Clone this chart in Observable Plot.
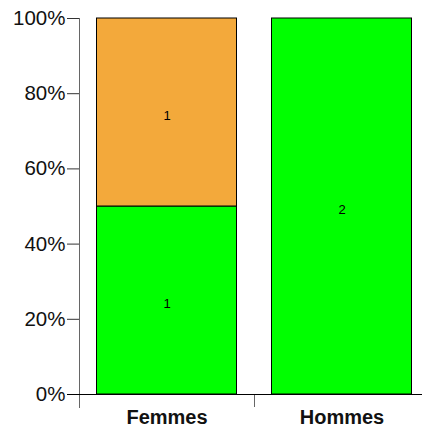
<!DOCTYPE html>
<html>
<head>
<meta charset="utf-8">
<script src="https://cdn.jsdelivr.net/npm/d3@7"></script>
<script src="https://cdn.jsdelivr.net/npm/@observablehq/plot@0.6"></script>
<style>
  html, body { margin: 0; padding: 0; background: #fff; }
  svg { display: block; overflow: visible; }
</style>
</head>
<body>
<div id="chart"></div>
<script>
const categories = ["Femmes", "Hommes"];
const seriesNames = ["vert", "orange"];
const seriesColors = ["#00ff00", "#f3a93b"];
const countsVert = [1, 2];
const countsOrange = [1, 0];
const yTicks = [0, 0.2, 0.4, 0.6, 0.8, 1];

const rows = [];
categories.forEach((c, i) => {
  const vals = [countsVert[i], countsOrange[i]];
  const total = d3.sum(vals);
  let acc = 0;
  vals.forEach((v, s) => {
    rows.push({cat: c, i, series: seriesNames[s], color: seriesColors[s], count: v,
               y1: acc / total, y2: (acc + v) / total});
    acc += v;
  });
});
const shown = rows.filter(d => d.count > 0);

const chart = Plot.plot({
  width: 422,
  height: 428,
  marginLeft: 79,
  marginRight: -7,
  marginTop: 18,
  marginBottom: 34,
  style: {fontFamily: "'Liberation Sans', Arial, sans-serif", background: "#fff"},
  x: {domain: [0, categories.length], axis: null},
  y: {domain: [0, 1], axis: null},
  marks: [
    Plot.rect(shown, {x1: d => d.i + 0.1, x2: d => d.i + 0.9, y1: "y1", y2: "y2",
      fill: "color", stroke: "black", strokeWidth: 1}),
    Plot.text(shown, {x: d => d.i + 0.5, y: d => (d.y1 + d.y2) / 2, text: d => String(d.count),
      fontSize: 13, fill: "black", dy: 3}),
    Plot.ruleX([0], {stroke: "#666", insetBottom: -14}),
    Plot.axisY({ticks: yTicks, tickFormat: d3.format(".0%"), tickSize: 12, tickPadding: 2,
      fontSize: 20.5, stroke: "#333", color: "#111"}),
    Plot.axisX({ticks: d3.range(1, categories.length + 1), tickFormat: () => "", tickSize: 13, stroke: "#666"}),
    Plot.ruleY([0], {stroke: "black", insetLeft: -12}),
    Plot.text(categories, {x: (d, i) => i + 0.5, frameAnchor: "bottom", dy: 29.5,
      text: d => d, fontSize: 20, fontWeight: "bold", fill: "#111"})
  ]
});
document.getElementById("chart").appendChild(chart);
</script>
</body>
</html>
